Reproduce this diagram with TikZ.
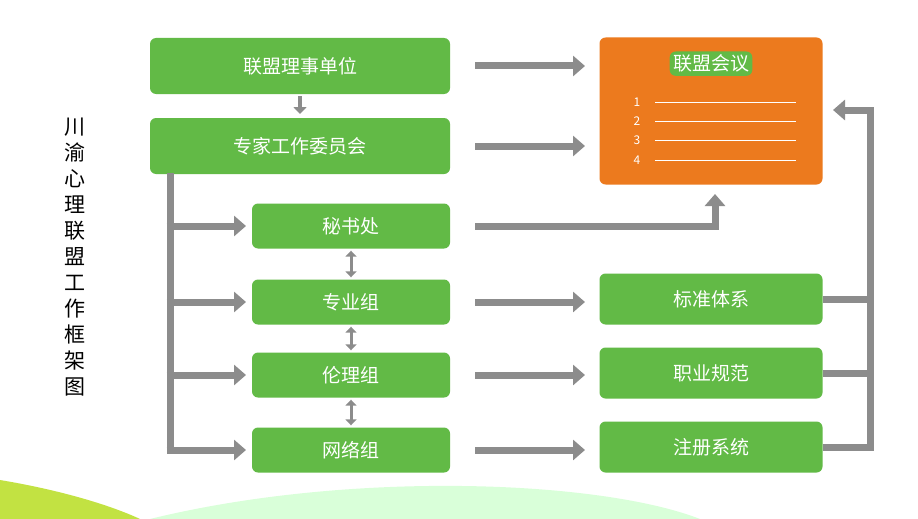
\documentclass[tikz,border=0pt]{standalone}
\usepackage{fontspec}
\setmainfont{Noto Sans CJK SC}
\usetikzlibrary{positioning,arrows.meta}
\definecolor{boxgreen}{RGB}{98,186,70}
\definecolor{boxorange}{RGB}{236,122,30}
\definecolor{arrowgray}{RGB}{140,140,140}
\tikzset{
  box/.style={
    draw=none,
    fill=boxgreen,
    rounded corners=6pt,
    text=white,
    font=\fontsize{19}{22}\selectfont,
    align=center
  },
  bigbox/.style={box, minimum width=300pt, minimum height=56pt},
  subbox/.style={box, minimum width=198pt, minimum height=45pt},
  rbox/.style={box, minimum width=223pt, minimum height=51pt},
  line/.style={-{Triangle[length=12pt,width=20pt]}, line width=7pt, draw=arrowgray},
  dline/.style={{Triangle[length=6pt,width=11pt]}-{Triangle[length=6pt,width=11pt]}, line width=3pt, draw=arrowgray, shorten <=2pt, shorten >=2pt}
}
\begin{document}
\begin{tikzpicture}[x=1pt,y=-1pt]
		\useasboundingbox (0,0) rectangle (918,519);
		\fill[white] (0,0) rectangle (918,519);
		\fill[yellow!70!green!80] (0,480) .. controls (60,490) and (110,505) .. (140,519) -- (0,519) -- cycle;
		\fill[green!15] (150,519) .. controls (350,470) and (600,480) .. (700,519) -- cycle;

		\node[bigbox] (council) at (300,66) {联盟理事单位};
		\node[bigbox] (experts) at (300,146) {专家工作委员会};
		\node[subbox] (secretary) at (351,226) {秘书处};
		\node[subbox] (profgroup) at (351,302) {专业组};
		\node[subbox] (ethgroup) at (351,375) {伦理组};
		\node[subbox] (netgroup) at (351,450) {网络组};

		\node[box, fill=boxorange, minimum width=223pt, minimum height=147pt] (meeting) at (711,111) {};
		\node[box, below = 14pt of meeting.north] (meetingtitle) {联盟会议};
		\foreach \i/\y in {1/102,2/121,3/140,4/160} {
			\node[text=white, font=\fontsize{12}{12}\selectfont] (num\i) at (637,\y) {\i};
			\draw[white, line width=0.8pt] (655,\y) -- (796,\y);
		}

		\node[rbox] (standard) at (711,299) {标准体系};
		\node[rbox] (ethics) at (711,373) {职业规范};
		\node[rbox] (register) at (711,447) {注册系统};

		\node[font=\fontsize{21}{26}\selectfont, align=center] (title) at (75,257) {川\\渝\\心\\理\\联\\盟\\工\\作\\框\\架\\图};

		% right arrows
		\draw[line] (475,66) -- (585,66);
		\draw[line] (475,146) -- (585,146);
		\draw[line] (475,302) -- (585,302);
		\draw[line] (475,375) -- (585,375);
		\draw[line] (475,450) -- (585,450);
		\draw[line] (475,226) -| (715,194);

		% left trunk
		\draw[line width=7pt, draw=arrowgray] (170,173) -- (170,453.5);
		\foreach \y in {226,302,375,450}
			\draw[line] (166.5,\y) -- (246,\y);

		% down arrow
		\draw[-{Triangle[length=7pt,width=13pt]}, line width=3.5pt, draw=arrowgray] (300,96) -- (300,114);

		% double arrows
		\draw[dline] (secretary.south) -- (profgroup.north);
		\draw[dline] (profgroup.south) -- (ethgroup.north);
		\draw[dline] (ethgroup.south) -- (netgroup.north);

		% feedback
		\draw[line width=7pt, draw=arrowgray] (standard.east) -- (870,299);
		\draw[line width=7pt, draw=arrowgray] (ethics.east) -- (870,373);
		\draw[line width=7pt, draw=arrowgray] (register.east) -- (873.5,447);
		\draw[line] (870,450.5) -- (870,110) -- (833,110);
\end{tikzpicture}
\end{document}
